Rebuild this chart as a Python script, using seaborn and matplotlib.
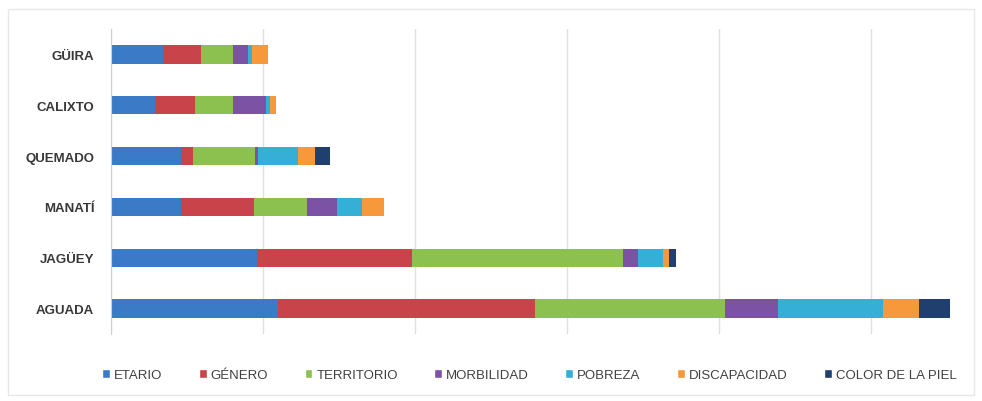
import matplotlib
matplotlib.use("Agg")
import matplotlib.pyplot as plt
from matplotlib.patches import Patch, Rectangle
import seaborn as sns
import numpy as np

# datos (escala arbitraria, 10 unidades por línea de rejilla)
lugares = ["GÜIRA", "CALIXTO", "QUEMADO", "MANATÍ", "JAGÜEY", "AGUADA"]
factores = ["ETARIO", "GÉNERO", "TERRITORIO", "MORBILIDAD", "POBREZA",
            "DISCAPACIDAD", "COLOR DE LA PIEL"]
etario = [3.4, 2.9, 4.6, 4.6, 9.6, 11.0]
genero = [2.5, 2.6, 0.8, 4.8, 10.2, 16.9]
territorio = [2.1, 2.5, 4.1, 3.5, 13.9, 12.5]
morbilidad = [1.0, 2.2, 0.2, 2.0, 1.0, 3.5]
pobreza = [0.3, 0.25, 2.6, 1.6, 1.6, 6.9]
discapacidad = [1.05, 0.4, 1.1, 1.45, 0.4, 2.4]
color_piel = [0.0, 0.0, 1.0, 0.0, 0.5, 2.0]

colores = ["#3b7ac6", "#c9434a", "#8cc04f", "#7c52a5",
           "#36afd6", "#f7993b", "#1f3f6e"]

sns.set_style("white")
plt.rcParams["font.family"] = ["Liberation Sans", "DejaVu Sans"]

series = [etario, genero, territorio, morbilidad, pobreza, discapacidad, color_piel]
acumulado = np.cumsum(np.array(series), axis=0)

fig = plt.figure(figsize=(9.82, 4.02), dpi=100)
ax = fig.add_axes([111 / 982, 1 - 335 / 402, (977 - 111) / 982, (335 - 30) / 402])

# barras apiladas: se dibuja el acumulado de mayor a menor
for i in range(len(series) - 1, -1, -1):
    sns.barplot(x=acumulado[i], y=lugares, color=colores[i], orient="h",
                width=0.36, saturation=1, ax=ax, linewidth=0)

ax.set_xlim(0, 57)
ax.set_xticks(range(0, 60, 10))
ax.set_xticklabels([])
ax.grid(axis="x", color="#e0e0e0", linewidth=1)
ax.set_axisbelow(True)
ax.tick_params(axis="x", length=0)
ax.tick_params(axis="y", length=0, pad=12, labelsize=9.5, labelcolor="#383838")
for t in ax.get_yticklabels():
    t.set_fontweight("bold")
ax.set_xlabel("")
ax.set_ylabel("")
for s in ["top", "right", "bottom"]:
    ax.spines[s].set_visible(False)
ax.spines["left"].set_color("#cfcfcf")

handles = [Patch(facecolor=c, label=f) for c, f in zip(colores, factores)]
fig.legend(handles=handles, loc="center", bbox_to_anchor=(0.539, 1 - 376 / 402),
           ncol=7, frameon=False, fontsize=9.5, labelcolor="#404040",
           handlelength=0.6, handleheight=0.6, handletextpad=0.3,
           columnspacing=2.75)

fig.patches.append(Rectangle((8 / 982, 6 / 402), 966 / 982, 386 / 402,
                             transform=fig.transFigure, fill=False,
                             edgecolor="#e8e8e8", linewidth=1))

fig.savefig("out.png", dpi=100)
